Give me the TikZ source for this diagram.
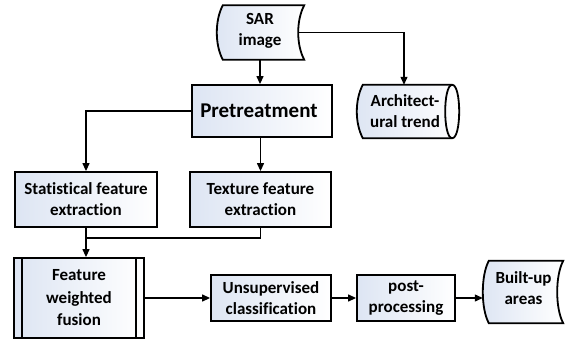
\documentclass[tikz,border=0pt]{standalone}
\usepackage{fontspec}
\setmainfont{Carlito}[Ligatures=NoCommon]
\usetikzlibrary{arrows.meta}
\definecolor{boxblue}{HTML}{DDE5F3}
\begin{document}
\begin{tikzpicture}[x=1pt,y=-1pt,
  box/.style={draw=black, line width=1.8pt, left color=boxblue, right color=white},
  lbl/.style={font=\bfseries\fontsize{17}{21}\selectfont, align=center, inner sep=0pt},
  rbox/.style={box, lbl},
  conn/.style={line width=1.2pt, -{Triangle[length=8pt,width=7pt]}},
  plain/.style={line width=1.2pt}]
\useasboundingbox (0,0) rectangle (566,340);
% SAR image (stored data)
\node[lbl, minimum width=88pt, minimum height=54pt] (sar) at (260,32.5) {};
\path[box] ([xshift=7pt]sar.north west) -- (sar.north east)
  .. controls +(-8,15) and +(-8,-15) .. (sar.south east)
  -- ([xshift=7pt]sar.south west)
  .. controls +(-8,-15) and +(-8,15) .. cycle;
\node[lbl] (sart) at ([yshift=1.5pt]sar.center) {SAR\\image};
% Pretreatment
\node[box, minimum width=140pt, minimum height=52pt] (pre) at (262,111) {};
\node[lbl, font=\bfseries\fontsize{21}{24}\selectfont] (pret) at ([xshift=-3pt]pre.center) {Pretreatment};
% Architectural trend (direct access storage)
\node[lbl, minimum width=104pt, minimum height=53pt] (arch) at (408,111.5) {};
\path[box] ([xshift=7pt]arch.north west) -- ([xshift=-8pt]arch.north east)
  .. controls +(9.33,0) and +(9.33,0) .. ([xshift=-8pt]arch.south east)
  -- ([xshift=7pt]arch.south west)
  .. controls +(-8,-15) and +(-8,15) .. cycle;
\draw[line width=1.8pt] ([xshift=-8pt]arch.north east)
  .. controls +(-9.33,0) and +(-9.33,0) .. ([xshift=-8pt]arch.south east);
\node[lbl] (archt) at ([xshift=-3pt]arch.center) {Architect-\\ural trend};
% Feature extraction
\node[rbox, minimum width=142pt, minimum height=55pt] (stat) at (86,199.5) {Statistical feature\\extraction};
\node[rbox, minimum width=141pt, minimum height=55pt] (tex) at (260.5,199.5) {Texture feature\\extraction};
% Fusion
\node[rbox, font=\bfseries\fontsize{17}{22.5}\selectfont, minimum width=130pt, minimum height=80pt] (fus) at (79,298) {Feature\\weighted\\fusion};
\draw[line width=1.8pt] ([xshift=9pt]fus.north west) -- ([xshift=9pt]fus.south west);
\draw[line width=1.8pt] ([xshift=-9pt]fus.north east) -- ([xshift=-9pt]fus.south east);
% Bottom row
\node[rbox, minimum width=120pt, minimum height=46pt] (uns) at (271,298) {Unsupervised\\classification};
\node[rbox, minimum width=98pt, minimum height=46pt] (post) at (406,298) {post-\\processing};
\node[lbl, minimum width=81pt, minimum height=62pt] (bua) at (522.5,292) {};
\path[box] ([xshift=7pt]bua.north west) -- (bua.north east)
  .. controls +(-8,15) and +(-8,-15) .. (bua.south east)
  -- ([xshift=7pt]bua.south west)
  .. controls +(-8,-15) and +(-8,15) .. cycle;
\node[lbl] (buat) at ([xshift=1pt,yshift=4pt]bua.center) {Built-up\\areas};
% Connectors
\coordinate (j) at (stat.south |- 0,238);
\draw[conn] (sar.south) -- (sar.south |- pre.north);
\draw[conn] ([xshift=-6pt]sar.east) -| ([xshift=-4pt]arch.north);
\draw[conn] (pre.west) -| (stat.north);
\draw[conn] (pre.south -| tex.north) -- (tex.north);
\draw[plain] (tex.south) |- (j);
\draw[conn] (stat.south) -- (stat.south |- fus.north);
\draw[conn] (fus.east) -- (uns.west);
\draw[conn] (uns.east) -- (post.west);
\draw[conn] (post.east) -- ([xshift=1pt]bua.west |- post.east);
\end{tikzpicture}
\end{document}
